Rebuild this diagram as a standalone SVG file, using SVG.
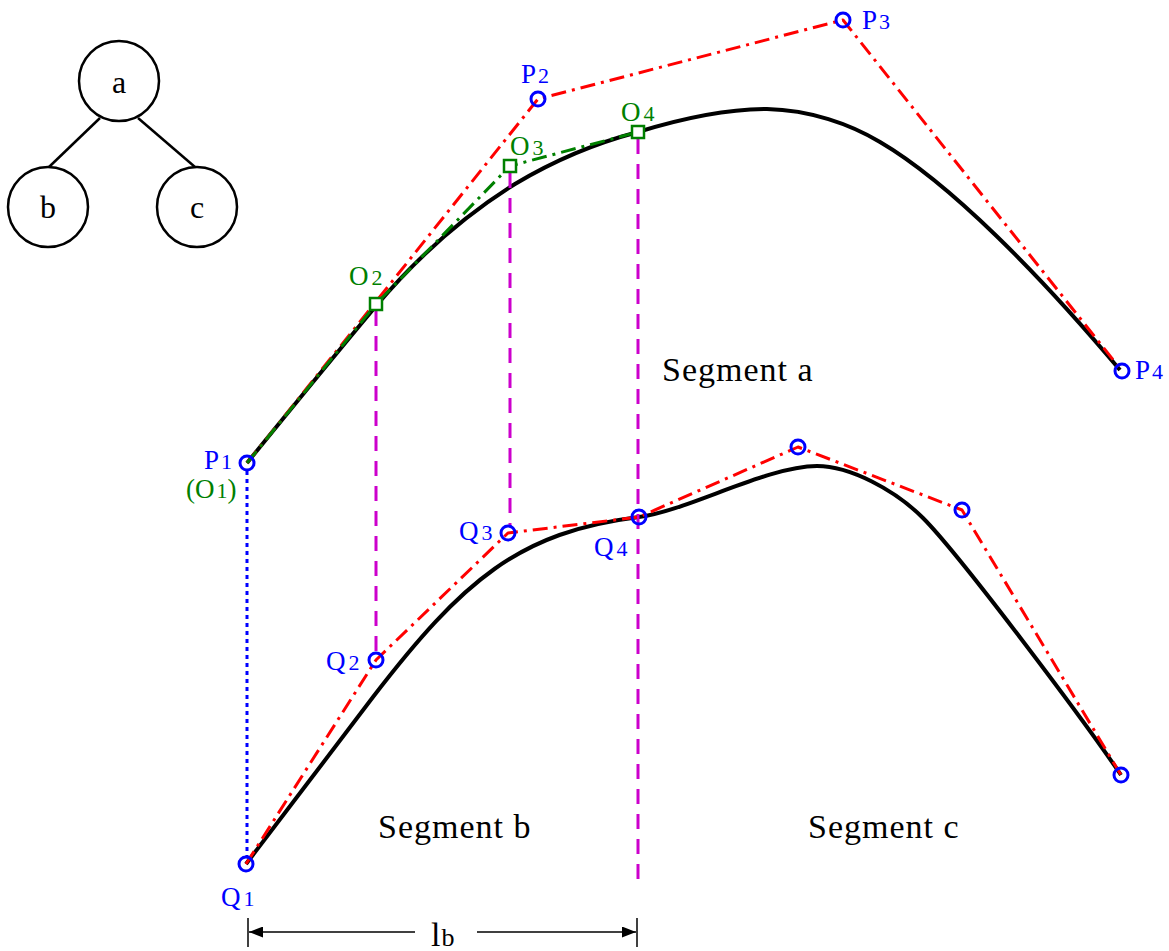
<svg xmlns="http://www.w3.org/2000/svg" width="1169" height="951" viewBox="0 0 1169 951">
<defs>
<style>
.node circle{fill:#fff;stroke:#000;stroke-width:2.5}
.tt{font-family:"Liberation Serif",serif;font-size:32px;fill:#000;text-anchor:middle}
.edge{stroke:#000;stroke-width:2.5;fill:none}
.curve{fill:none;stroke:#000;stroke-width:4;stroke-linejoin:round}
.red{fill:none;stroke:#ff0000;stroke-width:3;stroke-dasharray:15 6 3 6;stroke-linejoin:round}
.grn{fill:none;stroke:#008000;stroke-width:3;stroke-dasharray:15 6 3 6;stroke-linejoin:round}
.mag{stroke:#cc00cc;stroke-width:3;stroke-dasharray:15 10}
.dot{stroke:#0000ff;stroke-width:3;stroke-dasharray:4 4}
.pt{fill:none;stroke:#0000ff;stroke-width:3}
.sq{fill:#fff;stroke:#008000;stroke-width:2.5}
.lb{font-family:"Liberation Serif",serif;font-size:27px;fill:#0000ff}
.lg{font-family:"Liberation Serif",serif;font-size:27px;fill:#008000}
.sub{font-size:22px}
.seg{font-family:"Liberation Serif",serif;font-size:34px;fill:#000;letter-spacing:1px}
.dim{stroke:#000;stroke-width:1.5;fill:none}
</style>
<marker id="arr" viewBox="0 0 14 11" refX="14" refY="5.5" markerWidth="14" markerHeight="11" markerUnits="userSpaceOnUse" orient="auto"><path d="M0,0 L14,5.5 L0,11 z" fill="#000"/></marker>
</defs>
<rect width="1169" height="951" fill="#fff"/>

<g id="tree-edges">
<line class="edge" x1="100" y1="118" x2="49" y2="167"/>
<line class="edge" x1="138" y1="118" x2="195" y2="167"/>
</g>
<g id="node-a" class="node"><circle cx="119" cy="81" r="40"/><text class="tt" x="119" y="93">a</text></g>
<g id="node-b" class="node"><circle cx="48" cy="207" r="40"/><text class="tt" x="48" y="218">b</text></g>
<g id="node-c" class="node"><circle cx="197" cy="207" r="40"/><text class="tt" x="197" y="218">c</text></g>

<g id="curves">
<path class="curve" d="M247,463 C290,410 335,355 376,306 C420,254 470,212 515,184 C560,157 600,142 638,132 C680,119 725,109 767,109 C810,110 850,124 880,142 C950,183 1040,275 1120,370"/>
<path class="curve" d="M246,864 C280,820 340,740 373,697 C463,580 519,532 639,517 C687,511 767,466 817,466 C850,466 895,490 923,518 C960,555 1085,722 1121,775"/>
</g>

<g id="connectors">
<line class="dot" x1="247" y1="471" x2="247" y2="856"/>
<line class="mag" x1="376" y1="311" x2="376" y2="655"/>
<line class="mag" x1="510" y1="173" x2="510" y2="527"/>
<line class="mag" x1="638" y1="139" x2="638" y2="880"/>
<polyline class="red" points="247,463 538,99 843,20 1122,371"/>
<polyline class="red" points="246,864 376,660 508,533 639,517 798,447 962,510 1121,775"/>
<polyline class="grn" points="247,463 376,304 510,166 638,132"/>
<line class="dim" x1="248" y1="918" x2="248" y2="947"/>
<line class="dim" x1="637" y1="918" x2="637" y2="947"/>
<line class="dim" x1="415" y1="932" x2="249" y2="932" marker-end="url(#arr)"/>
<line class="dim" x1="477" y1="932" x2="636" y2="932" marker-end="url(#arr)"/>
</g>

<g id="points">
<circle class="pt" cx="247" cy="463" r="7"/>
<circle class="pt" cx="538" cy="99" r="7"/>
<circle class="pt" cx="843" cy="20" r="7"/>
<circle class="pt" cx="1122" cy="371" r="7"/>
<circle class="pt" cx="246" cy="864" r="7"/>
<circle class="pt" cx="376" cy="660" r="7"/>
<circle class="pt" cx="508" cy="533" r="7"/>
<circle class="pt" cx="639" cy="517" r="7"/>
<circle class="pt" cx="798" cy="447" r="7"/>
<circle class="pt" cx="962" cy="510" r="7"/>
<circle class="pt" cx="1121" cy="775" r="7"/>
<rect class="sq" x="370" y="298" width="12" height="12"/>
<rect class="sq" x="504" y="160" width="12" height="12"/>
<rect class="sq" x="632" y="126" width="12" height="12"/>
</g>

<g id="labels">
<text class="lb" x="204" y="469">P<tspan class="sub" dx="2">1</tspan></text>
<text class="lb" x="521" y="83">P<tspan class="sub" dx="2">2</tspan></text>
<text class="lb" x="862" y="29">P<tspan class="sub" dx="2">3</tspan></text>
<text class="lb" x="1135" y="379">P<tspan class="sub" dx="2">4</tspan></text>
<text class="lg" x="186" y="498">(O<tspan class="sub" dx="2">1</tspan>)</text>
<text class="lg" x="349" y="285">O<tspan class="sub" dx="3">2</tspan></text>
<text class="lg" x="510" y="155">O<tspan class="sub" dx="3">3</tspan></text>
<text class="lg" x="621" y="121">O<tspan class="sub" dx="3">4</tspan></text>
<text class="lb" x="221" y="906">Q<tspan class="sub" dx="3">1</tspan></text>
<text class="lb" x="326" y="670">Q<tspan class="sub" dx="3">2</tspan></text>
<text class="lb" x="459" y="540">Q<tspan class="sub" dx="3">3</tspan></text>
<text class="lb" x="594" y="556">Q<tspan class="sub" dx="3">4</tspan></text>
<text class="seg" x="662" y="381">Segment a</text>
<text class="seg" x="378" y="838">Segment b</text>
<text class="seg" x="808" y="838">Segment c</text>
<text x="431" y="946" font-family="Liberation Serif, serif" font-size="34" fill="#000">l<tspan font-size="26" dx="1">b</tspan></text>
</g>
</svg>
